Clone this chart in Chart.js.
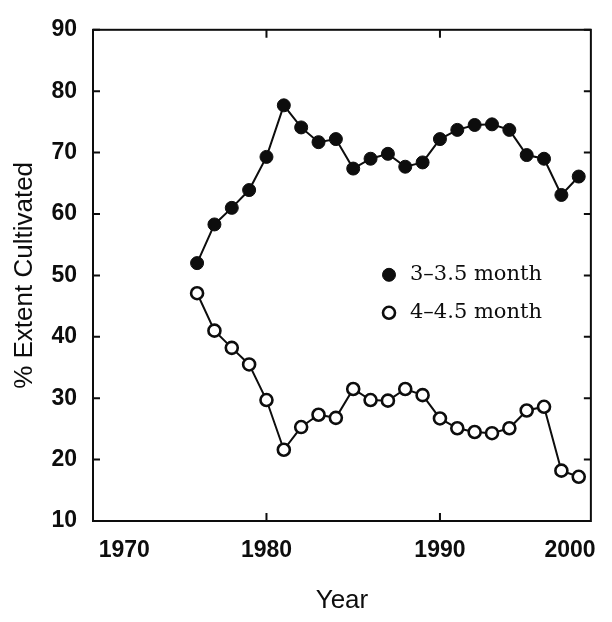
<!DOCTYPE html>
<html>
<head>
<meta charset="utf-8">
<script src="https://cdn.jsdelivr.net/npm/chart.js@4.4.0/dist/chart.umd.min.js"></script>
<style>
  html, body { margin: 0; padding: 0; background: #fff; }
</style>
</head>
<body>
<canvas id="extentChart" width="612" height="622"></canvas>
<script>
// Jahre und Werte
const years = [1976, 1977, 1978, 1979, 1980, 1981, 1982, 1983, 1984, 1985, 1986, 1987,
  1988, 1989, 1990, 1991, 1992, 1993, 1994, 1995, 1996, 1997, 1998];
const shortSeason = [52.0, 58.3, 61.0, 63.9, 69.3, 77.7, 74.1, 71.7, 72.2, 67.4, 69.0, 69.8,
  67.7, 68.4, 72.2, 73.7, 74.5, 74.6, 73.7, 69.6, 69.0, 63.1, 66.1];
const longSeason = [47.1, 41.0, 38.2, 35.5, 29.7, 21.6, 25.3, 27.3, 26.8, 31.5, 29.7, 29.6,
  31.5, 30.5, 26.7, 25.1, 24.5, 24.3, 25.1, 28.0, 28.6, 18.2, 17.2];
const seriesNames = ["3\u20133.5 month", "4\u20134.5 month"];

// Achsenbeschriftung: die Jahreszahlen stehen in der Vorlage nicht genau auf den Strichen
const xLabelYears = [1971.8, 1980, 1990, 1997.5];
const xLabels = ["1970", "1980", "1990", "2000"];
const xTickYears = [1980, 1990];
const yTicks = [10, 20, 30, 40, 50, 60, 70, 80, 90];

const ink = "#0d0d0d";

// Rahmen + nach innen zeigende Ticks
const framePlugin = {
  id: "frame",
  afterDraw(chart) {
    const { ctx, chartArea: a, scales } = chart;
    ctx.save();
    ctx.strokeStyle = ink;
    ctx.lineWidth = 2;
    ctx.strokeRect(a.left, a.top, a.right - a.left, a.bottom - a.top);
    ctx.beginPath();
    yTicks.forEach((v) => {
      const y = scales.y.getPixelForValue(v);
      ctx.moveTo(a.left, y);
      ctx.lineTo(a.left + 7, y);
      ctx.moveTo(a.right, y);
      ctx.lineTo(a.right - 7, y);
    });
    xTickYears.forEach((v) => {
      const x = scales.x.getPixelForValue(v);
      ctx.moveTo(x, a.top);
      ctx.lineTo(x, a.top + 8);
      ctx.moveTo(x, a.bottom);
      ctx.lineTo(x, a.bottom - 8);
    });
    ctx.stroke();
    ctx.restore();
  },
};

// Legende innerhalb der Grafik
const legendPlugin = {
  id: "innerLegend",
  afterDraw(chart) {
    const { ctx, chartArea: a } = chart;
    ctx.save();
    ctx.font = "21px 'DejaVu Serif'";
    ctx.textBaseline = "middle";
    chart.data.datasets.forEach((ds, i) => {
      const x = a.left + 296;
      const y = a.top + 245 + i * 38;
      ctx.beginPath();
      ctx.arc(x, y, ds.pointRadius, 0, Math.PI * 2);
      ctx.fillStyle = ds.pointBackgroundColor;
      ctx.fill();
      ctx.lineWidth = ds.pointBorderWidth;
      ctx.strokeStyle = ds.pointBorderColor;
      ctx.stroke();
      ctx.fillStyle = ink;
      ctx.fillText(ds.label, x + 21, y);
    });
    ctx.restore();
  },
};

const tickFont = { family: "'Liberation Sans', Arial, sans-serif", size: 23, weight: "bold" };
const titleFont = { family: "'Liberation Sans', Arial, sans-serif", size: 26 };

new Chart(document.getElementById("extentChart"), {
  type: "line",
  data: {
    datasets: [
      {
        label: seriesNames[0],
        data: years.map((yr, i) => ({ x: yr, y: shortSeason[i] })),
        borderColor: ink,
        borderWidth: 2,
        pointRadius: 6.5,
        pointBackgroundColor: ink,
        pointBorderColor: ink,
        pointBorderWidth: 1,
        tension: 0,
      },
      {
        label: seriesNames[1],
        data: years.map((yr, i) => ({ x: yr, y: longSeason[i] })),
        borderColor: ink,
        borderWidth: 2,
        pointRadius: 6,
        pointBackgroundColor: "#fff",
        pointBorderColor: ink,
        pointBorderWidth: 2.6,
        tension: 0,
      },
    ],
  },
  options: {
    responsive: false,
    animation: false,
    devicePixelRatio: 1,
    layout: { padding: { top: 22, right: 8, left: 0, bottom: 0 } },
    plugins: {
      legend: { display: false },
      tooltip: { enabled: false },
    },
    scales: {
      x: {
        type: "linear",
        min: 1970,
        max: 1998.7,
        grid: { display: false, drawTicks: false },
        border: { display: false },
        afterBuildTicks: (s) => {
          s.ticks = xLabelYears.map((v) => ({ value: v }));
        },
        afterFit: (s) => {
          s.height = 101;
        },
        ticks: {
          autoSkip: false,
          maxRotation: 0,
          padding: 16,
          color: ink,
          font: tickFont,
          callback: (v, i) => xLabels[i],
        },
        title: {
          display: true,
          text: "Year",
          color: ink,
          font: titleFont,
          padding: { top: 0, bottom: 6 },
        },
      },
      y: {
        min: 10,
        max: 90,
        grid: { display: false, drawTicks: false },
        border: { display: false },
        afterFit: (s) => {
          s.width = 93;
        },
        ticks: {
          stepSize: 10,
          padding: 16,
          color: ink,
          font: tickFont,
        },
        title: {
          display: true,
          text: "% Extent Cultivated",
          color: ink,
          font: titleFont,
          padding: { top: 9, bottom: 0 },
        },
      },
    },
  },
  plugins: [framePlugin, legendPlugin],
});
</script>
</body>
</html>
